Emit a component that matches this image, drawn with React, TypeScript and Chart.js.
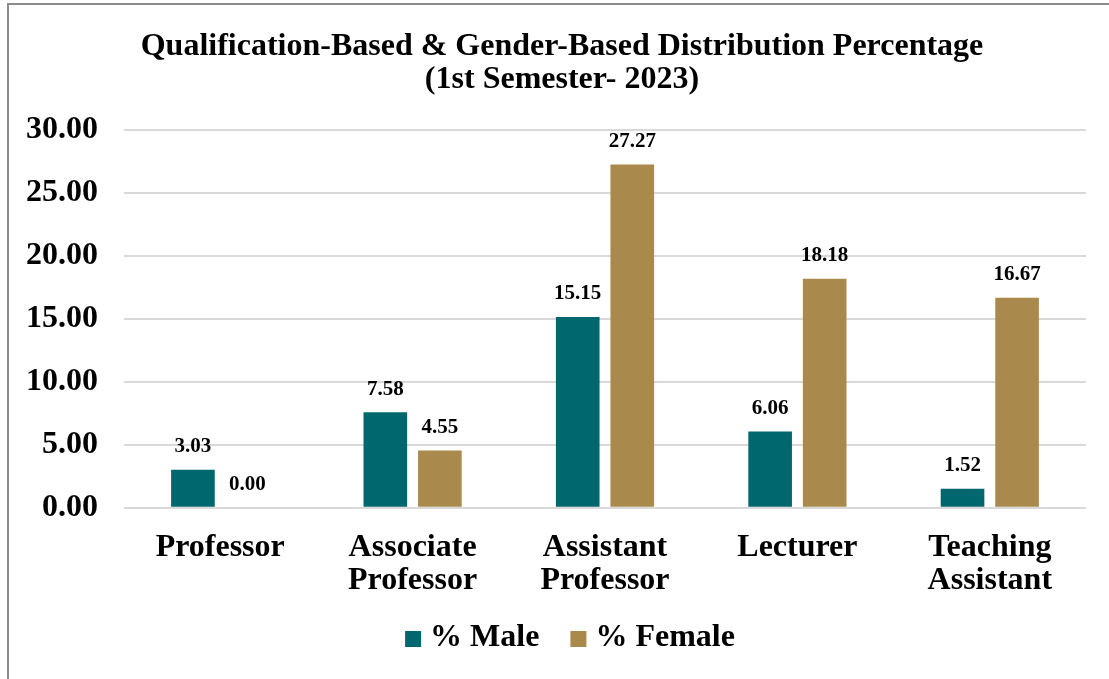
import React, { useEffect, useRef } from "react";
import { Chart, registerables } from "chart.js";

Chart.register(...registerables);

const categories: string[][] = [
  ["Professor"],
  ["Associate", "Professor"],
  ["Assistant", "Professor"],
  ["Lecturer"],
  ["Teaching", "Assistant"],
];
const maleValues = [3.03, 7.58, 15.15, 6.06, 1.52];
const femaleValues = [0.0, 4.55, 27.27, 18.18, 16.67];
const seriesNames = ["% Male", "% Female"];
const titleLines = [
  "Qualification-Based & Gender-Based Distribution Percentage",
  "(1st Semester- 2023)",
];

const FONT = "'Liberation Serif', 'Times New Roman', serif";
const MALE_COLOR = "#00676F";
const FEMALE_COLOR = "#A98A4C";

const customDraw = {
  id: "customDraw",
  afterDatasetsDraw(chart: any) {
    const ctx = chart.ctx;
    ctx.save();
    ctx.font = `bold 21px ${FONT}`;
    ctx.fillStyle = "#000";
    ctx.textAlign = "center";
    ctx.textBaseline = "middle";
    chart.data.datasets.forEach((ds: any, di: number) => {
      const meta = chart.getDatasetMeta(di);
      meta.data.forEach((el: any, i: number) => {
        const v = ds.data[i] as number;
        ctx.fillText(v.toFixed(2), el.x, el.y - 23);
      });
    });
    ctx.restore();
  },
  afterDraw(chart: any) {
    const ctx = chart.ctx;
    ctx.save();
    // frame
    ctx.strokeStyle = "#8C8C8C";
    ctx.lineWidth = 2;
    ctx.beginPath();
    ctx.moveTo(8, chart.height + 5);
    ctx.lineTo(8, 4);
    ctx.lineTo(chart.width + 5, 4);
    ctx.stroke();
    // title
    ctx.fillStyle = "#000";
    ctx.textAlign = "center";
    ctx.textBaseline = "middle";
    ctx.font = `bold 32px ${FONT}`;
    titleLines.forEach((t, i) => ctx.fillText(t, 562, 47 + i * 33));
    // legend
    const ds = chart.data.datasets;
    const box = 16, gapText = 9, gapItem = 31;
    const widths = ds.map((d: any) => ctx.measureText(d.label).width);
    const total = widths.reduce((a: number, w: number) => a + box + gapText + w, 0) + gapItem * (ds.length - 1);
    let x = 570 - total / 2;
    const cy = 638;
    ds.forEach((d: any, i: number) => {
      ctx.fillStyle = d.backgroundColor;
      ctx.fillRect(x, cy - box / 2 + 1, box, box);
      ctx.fillStyle = "#000";
      ctx.textAlign = "left";
      ctx.fillText(d.label, x + box + gapText, cy);
      x += box + gapText + widths[i] + gapItem;
    });
    ctx.restore();
  },
};

export default function App() {
  const ref = useRef<HTMLCanvasElement | null>(null);
  useEffect(() => {
    if (!ref.current) return;
    const chart = new Chart(ref.current, {
      type: "bar",
      data: {
        labels: categories,
        datasets: [
          {
            label: seriesNames[0],
            data: maleValues,
            backgroundColor: MALE_COLOR,
            barPercentage: 0.8,
            categoryPercentage: 0.567,
          },
          {
            label: seriesNames[1],
            data: femaleValues,
            backgroundColor: FEMALE_COLOR,
            barPercentage: 0.8,
            categoryPercentage: 0.567,
          },
        ],
      },
      options: {
        animation: false,
        responsive: false,
        devicePixelRatio: 1,
        layout: { padding: { left: 0, right: 23, top: 130, bottom: 58 } },
        plugins: {
          title: { display: false },
          legend: { display: false },
          tooltip: { enabled: false },
        },
        scales: {
          x: {
            grid: { display: false, drawTicks: false },
            border: { display: false },
            ticks: {
              color: "#000",
              font: { family: FONT, size: 32, weight: "bold", lineHeight: 1.05 },
              padding: 23,
              maxRotation: 0,
              autoSkip: false,
            },
          },
          y: {
            min: 0,
            max: 30,
            grid: { color: "#D9D9D9", lineWidth: 2, drawTicks: false },
            border: { display: false },
            ticks: {
              stepSize: 5,
              color: "#000",
              font: { family: FONT, size: 32, weight: "bold" },
              padding: 26,
              callback: (v: any) => Number(v).toFixed(2),
            },
          },
        },
      },
      plugins: [customDraw],
    });
    return () => chart.destroy();
  }, []);
  return (
    <div style={{ position: "fixed", left: 0, top: 0, width: 1109, height: 679, background: "#fff" }}>
      <canvas ref={ref} width={1109} height={679} style={{ display: "block" }} />
    </div>
  );
}
